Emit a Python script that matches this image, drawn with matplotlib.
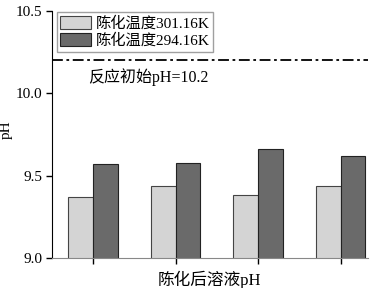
import numpy as np
import matplotlib
matplotlib.use("Agg")
import matplotlib.pyplot as plt

plt.rcParams['font.family'] = ['Liberation Serif', 'Noto Sans CJK SC']
plt.rcParams['axes.unicode_minus'] = False

# data
groups = ["1", "2", "3", "4"]
ph_301 = [9.37, 9.44, 9.38, 9.44]
ph_294 = [9.57, 9.58, 9.66, 9.62]
initial_ph = 10.2
labels = ["陈化温度301.16K", "陈化温度294.16K"]

fig = plt.figure(figsize=(3.84, 2.88), dpi=100)
ax = fig.add_axes([0.135, 0.104, 0.823, 0.858])

x = np.arange(len(groups))
w = 0.30
ax.bar(x - w / 2, ph_301, w, color="#d4d4d4", edgecolor="#444444",
       linewidth=0.8, label=labels[0])
ax.bar(x + w / 2, ph_294, w, color="#6a6a6a", edgecolor="#222222",
       linewidth=0.8, label=labels[1])

ax.axhline(initial_ph, color="black", linestyle=(0, (6, 2, 1.5, 2)), linewidth=1.3)
ax.text(-0.06, 10.1, "反应初始pH=10.2", fontsize=11.5, ha="left", va="center")

ax.set_ylim(9.0, 10.5)
ax.set_xlim(-0.5, 3.33)
ax.set_yticks([9.0, 9.5, 10.0, 10.5])
ax.set_yticklabels(["9.0", "9.5", "10.0", "10.5"])
ax.set_xticks(x)
ax.set_xticklabels([])
ax.tick_params(labelsize=11, direction="out", length=4, width=1, pad=3)

ax.spines["top"].set_visible(False)
ax.spines["right"].set_visible(False)
ax.spines["bottom"].set_color("#888888")

ax.set_ylabel("pH", fontsize=11)
ax.yaxis.set_label_coords(-0.125, 0.52)
ax.set_xlabel("陈化后溶液pH", fontsize=12, labelpad=2)

ax.legend(loc="upper left", fontsize=11, frameon=True, fancybox=False,
          edgecolor="#888888", handlelength=2.0, handleheight=0.9,
          borderpad=0.25, labelspacing=0.15, handletextpad=0.3,
          borderaxespad=0.1, bbox_to_anchor=(0.01, 1.0))

fig.savefig("out.png", dpi=100)
